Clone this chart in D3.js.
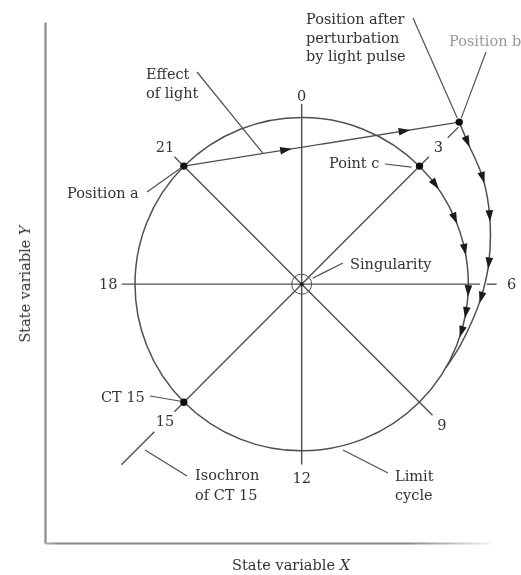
<!DOCTYPE html>
<html>
<head>
<meta charset="utf-8">
<script src="https://cdn.jsdelivr.net/npm/d3@7"></script>
<style>
body { margin: 0; background: #fff; }
svg text { font-family: "DejaVu Serif", "Liberation Serif", serif; font-size: 14.5px; fill: #333; }
</style>
</head>
<body>
<div class="chart"></div>
<script>
const width = 521, height = 575;

// clock hours of the isochron spokes (circadian time)
const spokeHours = [0, 3, 6, 9, 12, 15, 18, 21];
const spokeLabels = ["0", "3", "6", "9", "12", "15", "18", "21"];

// marked states: clock hour + distance from the singularity (limit cycle = 1)
const pointNames = ["Position a", "Point c", "CT 15", "Position b"];
const pointHours = [21, 3, 15, 2.95];
const pointRadii = [1, 1, 1, 1.355];

// path from position b back onto the limit cycle
const returnHours = [2.95, 3.29, 3.97, 4.67, 5.57, 6.28, 6.8, 7.39, 8.0];
const returnRadii = [1.355, 1.31, 1.26, 1.2, 1.13, 1.08, 1.047, 1.02, 1.0];
const returnArrows = [1, 2, 3, 4, 5]; // vertices that get an arrowhead

// arrowheads on the limit cycle after point c
const cycleArrowHours = [3.55, 4.45, 5.2, 6.15, 6.65, 7.1];

// arrowheads on the light pulse (fraction of the way from a to b)
const pulseArrows = [0.37, 0.8];

// axis extents, in state units
const xDomain = [-1.54, 1.13];
const yDomain = [-1.55, 1.57];

const svg = d3.select(".chart")
    .append("svg")
    .attr("width", width)
    .attr("height", height);

const defs = svg.append("defs");

defs.append("filter")
    .attr("id", "soft")
    .append("feGaussianBlur")
    .attr("stdDeviation", 0.45);

// bottom axis fades out at its right end
const fade = defs.append("linearGradient")
    .attr("id", "fade")
    .attr("gradientUnits", "userSpaceOnUse")
    .attr("x1", 40).attr("x2", 500)
    .attr("y1", 0).attr("y2", 0);
fade.append("stop").attr("offset", 0).attr("stop-color", "#bbb");
fade.append("stop").attr("offset", 0.04).attr("stop-color", "#888");
fade.append("stop").attr("offset", 0.8).attr("stop-color", "#888");
fade.append("stop").attr("offset", 1).attr("stop-color", "#fff");

const g = svg.append("g").attr("filter", "url(#soft)");

/* SCALES */
const x = d3.scaleLinear().domain(xDomain).range([45, 490]);
const y = d3.scaleLinear().domain(yDomain).range([543, 22]);
const angle = d3.scaleLinear().domain([0, 24]).range([0, 2 * Math.PI]);

// clock hour + radius -> screen
function px(h, r) { return x(r * Math.sin(angle(h))); }
function py(h, r) { return y(r * Math.cos(angle(h))); }

const cx = x(0), cy = y(0);
const R = x(1) - x(0);

/* AXES */
g.append("g")
    .attr("class", "y_axis")
    .attr("transform", `translate(${x(xDomain[0])},0)`)
    .call(d3.axisLeft(y).tickValues([]).tickSizeOuter(0))
    .select(".domain")
    .attr("stroke", "#8a8a8a")
    .attr("stroke-width", 2.2);

g.append("g")
    .attr("class", "x_axis")
    .attr("transform", `translate(0,${y(yDomain[0])})`)
    .call(d3.axisBottom(x).tickValues([]).tickSizeOuter(0))
    .select(".domain")
    .attr("stroke", "url(#fade)")
    .attr("stroke-width", 2.2);

g.append("text")
    .attr("transform", `translate(30,${cy}) rotate(-90)`)
    .attr("text-anchor", "middle")
    .text("State variable ")
    .append("tspan").attr("font-style", "italic").text("Y");

g.append("text")
    .attr("x", 291).attr("y", 570)
    .attr("text-anchor", "middle")
    .text("State variable ")
    .append("tspan").attr("font-style", "italic").text("X");

/* LIMIT CYCLE + SPOKES */
const lineColor = "#505050";

g.append("circle")
    .attr("cx", cx).attr("cy", cy).attr("r", R)
    .attr("fill", "none")
    .attr("stroke", lineColor)
    .attr("stroke-width", 1.5);

g.selectAll("line.spoke")
    .data(spokeHours)
    .enter()
    .append("line")
    .attr("class", "spoke")
    .attr("x1", cx).attr("y1", cy)
    .attr("x2", d => px(d, d === 6 ? 1.07 : (d === 9 ? 1.11 : 1.08)))
    .attr("y2", d => py(d, d === 6 ? 1.07 : (d === 9 ? 1.11 : 1.08)))
    .attr("stroke", lineColor)
    .attr("stroke-width", 1.4);

// pieces of spokes beyond their labels
const extras = [[6, 1.11, 1.17], [3, 1.24, 1.33], [15, 1.25, 1.53]];
g.selectAll("line.extra")
    .data(extras)
    .enter()
    .append("line")
    .attr("x1", d => px(d[0], d[1])).attr("y1", d => py(d[0], d[1]))
    .attr("x2", d => px(d[0], d[2])).attr("y2", d => py(d[0], d[2]))
    .attr("stroke", lineColor)
    .attr("stroke-width", 1.4);

g.selectAll("text.hour")
    .data(spokeHours)
    .enter()
    .append("text")
    .attr("class", "hour")
    .attr("x", d => px(d, d === 6 ? 1.26 : (d === 9 ? 1.19 : 1.16)))
    .attr("y", d => py(d, d === 6 ? 1.26 : (d === 0 ? 1.13 : (d === 9 ? 1.19 : 1.16))))
    .attr("dy", "0.35em")
    .attr("text-anchor", "middle")
    .text((d, i) => spokeLabels[i]);

// singularity
g.append("circle")
    .attr("cx", cx).attr("cy", cy).attr("r", 10)
    .attr("fill", "none")
    .attr("stroke", lineColor)
    .attr("stroke-width", 1);
g.append("circle")
    .attr("cx", cx).attr("cy", cy).attr("r", 2)
    .attr("fill", "#222");

/* LIGHT PULSE a -> b */
const ax = px(pointHours[0], pointRadii[0]), ay = py(pointHours[0], pointRadii[0]);
const bx = px(pointHours[3], pointRadii[3]), by = py(pointHours[3], pointRadii[3]);

g.append("line")
    .attr("x1", ax).attr("y1", ay)
    .attr("x2", bx).attr("y2", by)
    .attr("stroke", lineColor)
    .attr("stroke-width", 1.4);

/* RETURN PATH b -> limit cycle */
const returnData = returnHours.map((h, i) => ({ h: h, r: returnRadii[i] }));

g.append("path")
    .datum(returnData)
    .attr("d", d3.line()
        .x(d => px(d.h, d.r))
        .y(d => py(d.h, d.r))
        .curve(d3.curveCatmullRom))
    .attr("fill", "none")
    .attr("stroke", lineColor)
    .attr("stroke-width", 1.5);

/* ARROWHEADS */
const arrows = [];
pulseArrows.forEach(f => {
    arrows.push({
        x: ax + (bx - ax) * f, y: ay + (by - ay) * f,
        a: Math.atan2(by - ay, bx - ax) * 180 / Math.PI
    });
});
cycleArrowHours.forEach(h => {
    arrows.push({ x: px(h, 1), y: py(h, 1), a: angle(h) * 180 / Math.PI });
});
returnArrows.forEach(i => {
    const p0 = returnData[i - 1], p1 = returnData[i + 1], p = returnData[i];
    arrows.push({
        x: px(p.h, p.r), y: py(p.h, p.r),
        a: Math.atan2(py(p1.h, p1.r) - py(p0.h, p0.r), px(p1.h, p1.r) - px(p0.h, p0.r)) * 180 / Math.PI
    });
});

g.selectAll("path.arrow")
    .data(arrows)
    .enter()
    .append("path")
    .attr("class", "arrow")
    .attr("d", "M6,0 L-5.5,-3.8 L-5.5,3.8 Z")
    .attr("transform", d => `translate(${d.x},${d.y}) rotate(${d.a})`)
    .attr("fill", "#1a1a1a");

/* MARKED POINTS */
g.selectAll("circle.state")
    .data(pointNames)
    .enter()
    .append("circle")
    .attr("class", "state")
    .attr("cx", (d, i) => px(pointHours[i], pointRadii[i]))
    .attr("cy", (d, i) => py(pointHours[i], pointRadii[i]))
    .attr("r", 3.7)
    .attr("fill", "#111");

/* ANNOTATIONS */
const cX = px(pointHours[1], 1), cY = py(pointHours[1], 1);
const tX = px(pointHours[2], 1), tY = py(pointHours[2], 1);

const notes = [
    { lines: ["Effect", "of light"], x: 146, y: 79, gap: 18.5, leader: [197, 72, 263, ay + (by - ay) * (263 - ax) / (bx - ax)] },
    { lines: ["Position a"], x: 67, y: 198, leader: [147, 192, ax - 3, ay + 2] },
    { lines: ["Position after", "perturbation", "by light pulse"], x: 306, y: 24, gap: 18.5, leader: [413, 18, bx - 2, by - 4] },
    { lines: ["Position b"], x: 449, y: 46, fill: "#999", leader: [486, 52, bx + 2, by - 4] },
    { lines: ["Point c"], x: 329, y: 168, leader: [385, 164, cX - 8, cY + 1] },
    { lines: ["Singularity"], x: 350, y: 269, leader: [cx + 11, cy - 6, 343, 263] },
    { lines: ["CT 15"], x: 101, y: 402, leader: [150, 396, tX - 3, tY - 1] },
    { lines: ["Isochron", "of CT 15"], x: 195, y: 480, gap: 20, leader: [145, 450, 187, 476] },
    { lines: ["Limit", "cycle"], x: 395, y: 481, gap: 19, leader: [343, 450, 388, 473] }
];

notes.forEach(n => {
    g.append("line")
        .attr("x1", n.leader[0]).attr("y1", n.leader[1])
        .attr("x2", n.leader[2]).attr("y2", n.leader[3])
        .attr("stroke", lineColor)
        .attr("stroke-width", 1.2);

    const t = g.append("text")
        .attr("x", n.x).attr("y", n.y)
        .style("fill", n.fill || "#333");
    n.lines.forEach((s, i) => {
        t.append("tspan")
            .attr("x", n.x)
            .attr("dy", i === 0 ? 0 : n.gap)
            .text(s);
    });
});
</script>
</body>
</html>
